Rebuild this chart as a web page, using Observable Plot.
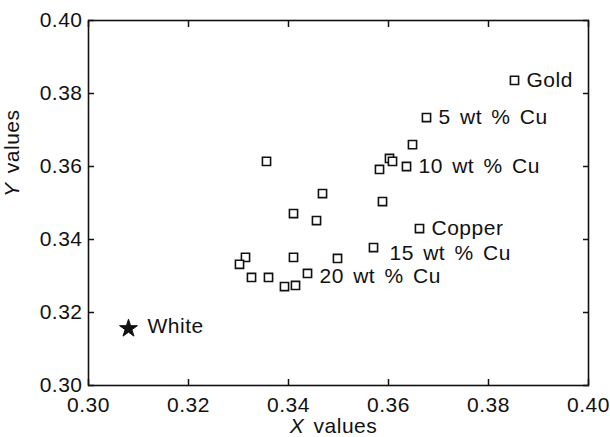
<!DOCTYPE html>
<html>
<head>
<meta charset="utf-8">
<script src="https://cdn.jsdelivr.net/npm/d3@7"></script>
<script src="https://cdn.jsdelivr.net/npm/@observablehq/plot@0.6"></script>
<style>
  html, body { margin: 0; padding: 0; background: #fff; }
</style>
</head>
<body>
<div id="chart"></div>
<script>
// Sample chromaticity points (squares)
const sampleX = [0.3852, 0.3676, 0.3648, 0.3602, 0.3608, 0.3636, 0.3582, 0.3588, 0.3662, 0.3570,
                 0.3356, 0.3468, 0.3410, 0.3456, 0.3410, 0.3498, 0.3314, 0.3302, 0.3326, 0.3360,
                 0.3392, 0.3414, 0.3438];
const sampleY = [0.3836, 0.3734, 0.3660, 0.3622, 0.3614, 0.3600, 0.3592, 0.3504, 0.3430, 0.3378,
                 0.3614, 0.3526, 0.3471, 0.3452, 0.3351, 0.3348, 0.3351, 0.3332, 0.3296, 0.3296,
                 0.3271, 0.3274, 0.3307];
const sampleLabel = ["Gold", "5 wt % Cu", "", "", "", "10 wt % Cu", "", "", "Copper", "15 wt % Cu",
                     "", "", "", "", "", "", "", "", "", "",
                     "", "", "20 wt % Cu"];
// White reference point (star)
const whiteX = [0.308];
const whiteY = [0.3156];
const whiteLabel = ["White"];

const xTicks = [0.30, 0.32, 0.34, 0.36, 0.38, 0.40];
const yTicks = [0.30, 0.32, 0.34, 0.36, 0.38, 0.40];
const xTitle = "X values";
const yTitle = "Y values";

const samples = sampleX.map((x, i) => ({x, y: sampleY[i], label: sampleLabel[i]}));
const white = whiteX.map((x, i) => ({x, y: whiteY[i], label: whiteLabel[i]}));

const fmt = d3.format(".2f");
const FS = 21;

const plot = Plot.plot({
  width: 610,
  height: 437,
  marginLeft: 88,
  marginRight: 22,
  marginTop: 20,
  marginBottom: 52,
  style: {fontFamily: "'Liberation Sans', Arial, sans-serif", letterSpacing: "0.5px", wordSpacing: "3px", background: "#fff", color: "#111", overflow: "visible"},
  x: {domain: [0.30, 0.40], label: null, axis: null},
  y: {domain: [0.30, 0.40], label: null, axis: null},
  marks: [
    // tick labels
    Plot.axisX(xTicks, {anchor: "bottom", tickSize: 0, tickPadding: 12, tickFormat: fmt, fontSize: FS, label: null, fill: "#111"}),
    Plot.axisY(yTicks, {anchor: "left", tickSize: 0, tickPadding: 6, tickFormat: fmt, fontSize: FS, label: null, fill: "#111"}),
    // inward ticks on all four sides
    Plot.axisX(xTicks, {anchor: "bottom", tickSize: -6, tickFormat: () => "", label: null, strokeWidth: 1.5, stroke: "#111"}),
    Plot.axisX(xTicks, {anchor: "top", tickSize: -6, tickFormat: () => "", label: null, strokeWidth: 1.5, stroke: "#111"}),
    Plot.axisY(yTicks, {anchor: "left", tickSize: -6, tickFormat: () => "", label: null, strokeWidth: 1.5, stroke: "#111"}),
    Plot.axisY(yTicks, {anchor: "right", tickSize: -6, tickFormat: () => "", label: null, strokeWidth: 1.5, stroke: "#111"}),
    Plot.frame({stroke: "#111", strokeWidth: 1.6}),
    // axis titles
    Plot.text([xTitle], {text: d => d, frameAnchor: "bottom", dx: -5, dy: 41, fontSize: FS, lineAnchor: "middle", fill: "#111"}),
    Plot.text([yTitle], {text: d => d, frameAnchor: "left", rotate: -90, dx: -76, dy: -6, fontSize: FS, lineAnchor: "middle", fill: "#111"}),
    // data
    Plot.dot(samples, {x: "x", y: "y", symbol: "square", r: 4.6, stroke: "#111", strokeWidth: 1.6, fill: "white"}),
    Plot.dot(white, {x: "x", y: "y", symbol: "star", r: 5.6, fill: "#111", stroke: "#111", strokeWidth: 1}),
    // labels
    Plot.text(samples, {filter: d => d.label && d.label !== "15 wt % Cu" && d.label !== "20 wt % Cu", x: "x", y: "y", text: "label", textAnchor: "start", dx: 12, dy: 0, fontSize: FS, fill: "#111"}),
    Plot.text(samples, {filter: d => d.label === "15 wt % Cu", x: "x", y: "y", text: "label", textAnchor: "start", dx: 16, dy: 6, fontSize: FS, fill: "#111"}),
    Plot.text(samples, {filter: d => d.label === "20 wt % Cu", x: "x", y: "y", text: "label", textAnchor: "start", dx: 12, dy: 3, fontSize: FS, fill: "#111"}),
    Plot.text(white, {x: "x", y: "y", text: "label", textAnchor: "start", dx: 19, dy: -2, fontSize: FS, fill: "#111"})
  ]
});

// italicise the variable letter in the axis titles
const NS = "http://www.w3.org/2000/svg";
plot.querySelectorAll("text").forEach(t => {
  const s = t.textContent;
  if (s === xTitle || s === yTitle) {
    t.textContent = "";
    const a = document.createElementNS(NS, "tspan");
    a.setAttribute("font-style", "italic");
    a.textContent = s[0];
    const b = document.createElementNS(NS, "tspan");
    b.textContent = s.slice(1);
    t.append(a, b);
  }
});

document.getElementById("chart").append(plot);
</script>
</body>
</html>
